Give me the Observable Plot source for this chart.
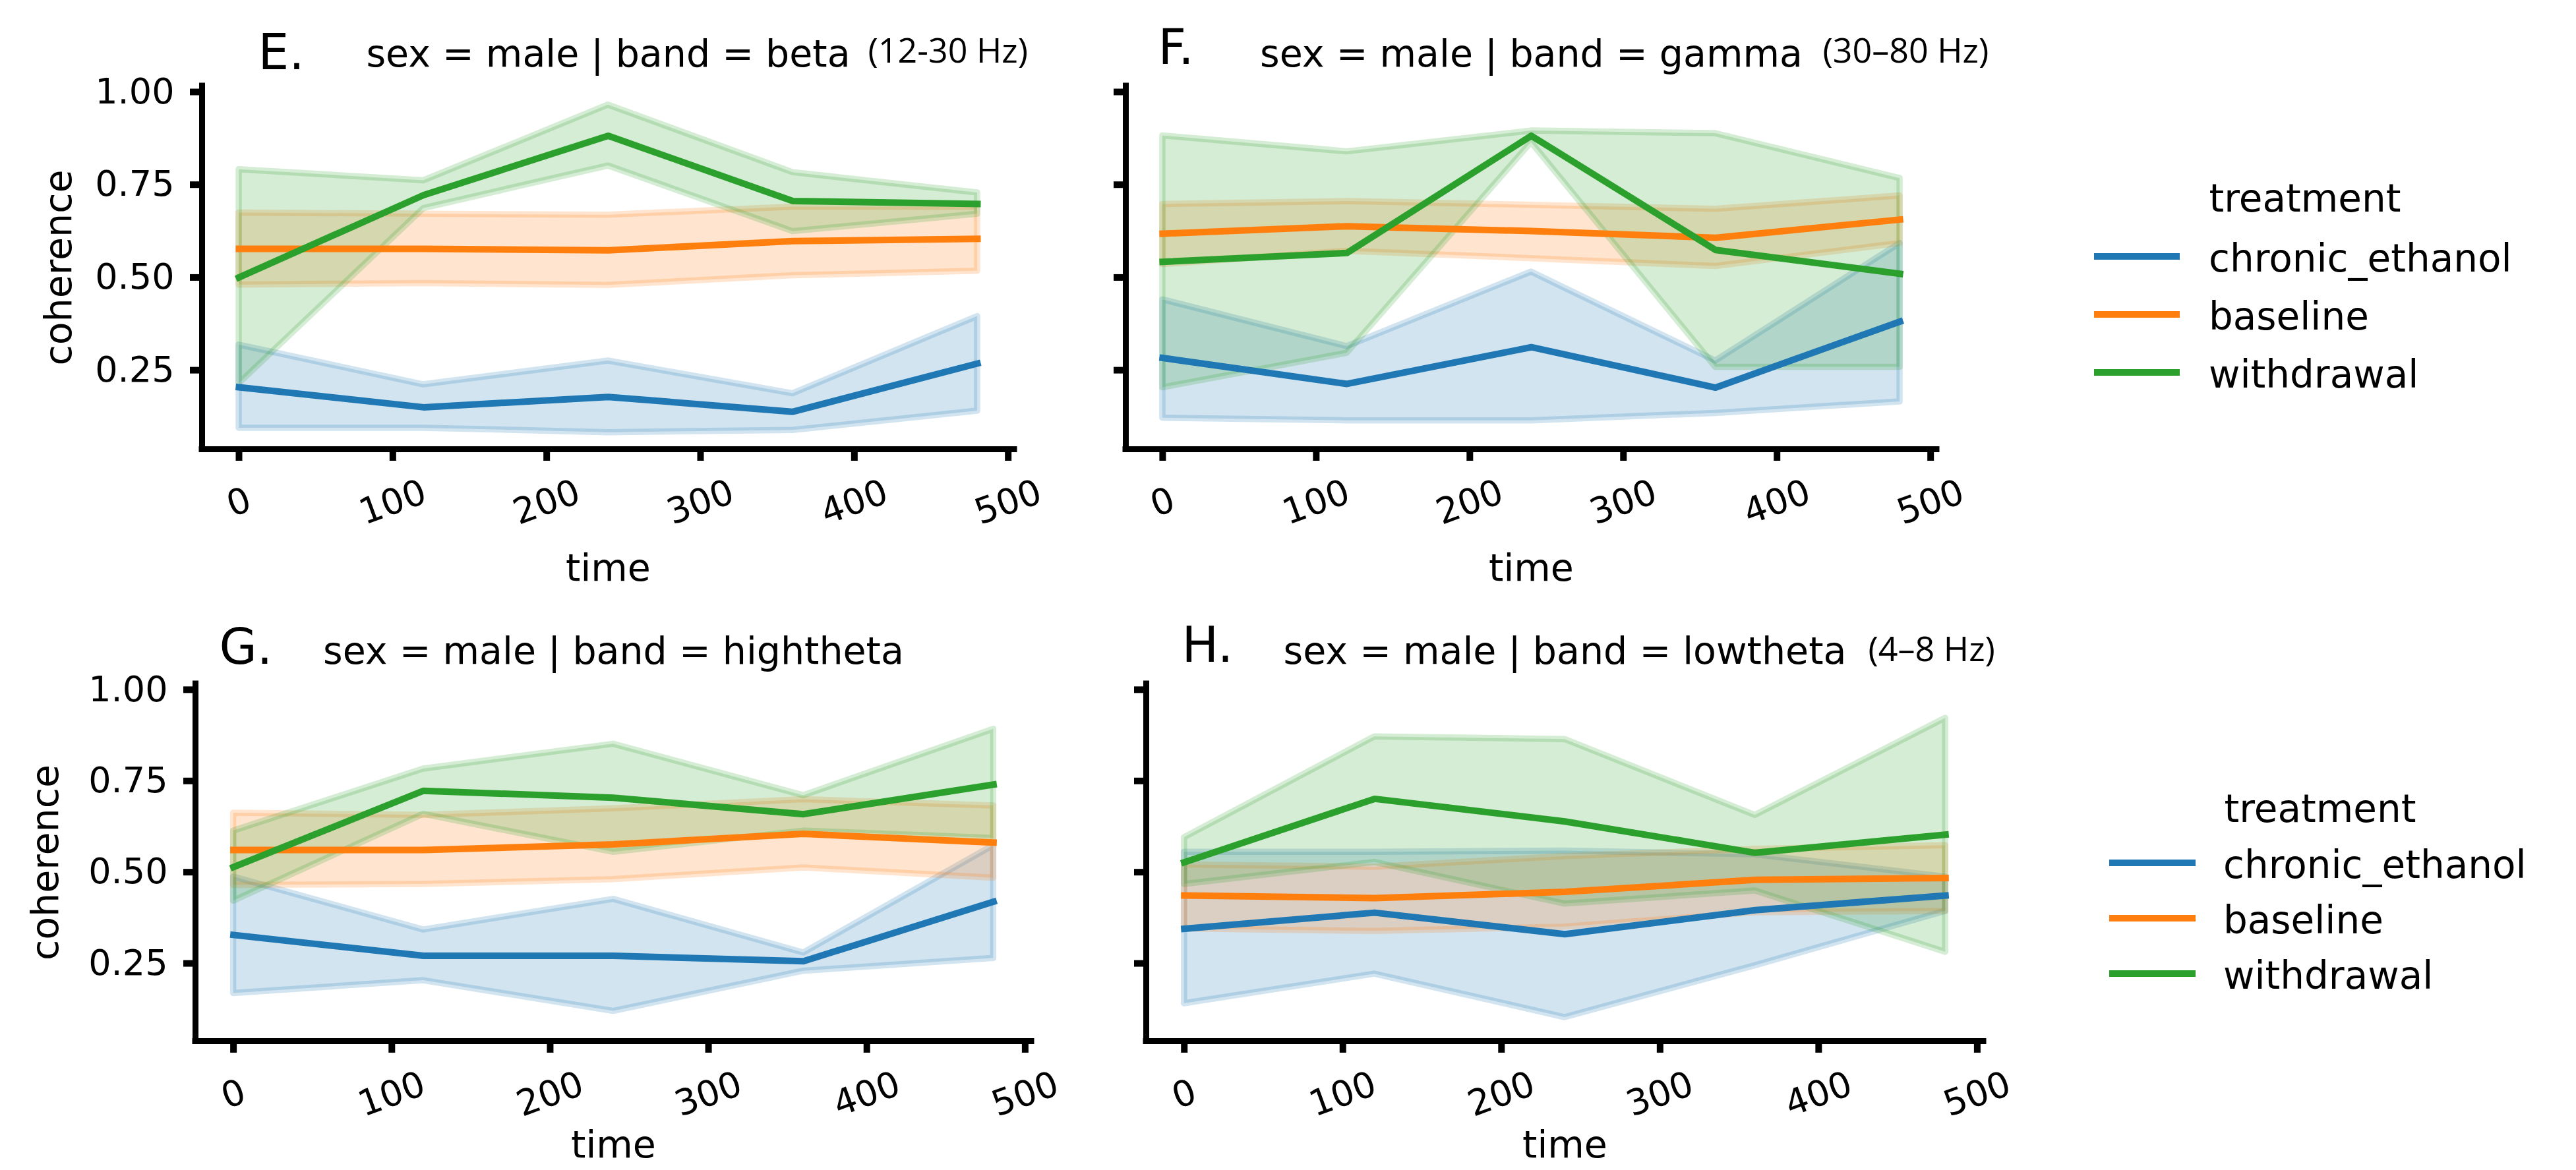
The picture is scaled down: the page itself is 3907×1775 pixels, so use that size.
<!DOCTYPE html>
<html>
<head>
<meta charset="utf-8">
<script src="https://cdn.jsdelivr.net/npm/d3@7"></script>
<script src="https://cdn.jsdelivr.net/npm/@observablehq/plot@0.6"></script>
<style>
  html, body { margin: 0; padding: 0; background: #ffffff; }
  #fig { position: relative; width: 3907px; height: 1775px; background: #ffffff; overflow: hidden; font-family: "DejaVu Sans"; }
  #fig > svg { position: absolute; }
</style>
</head>
<body>
<div id="fig"></div>
<script>
// ---------- data ----------
const times = [0, 120, 240, 360, 480];
const treatments = ["chronic_ethanol", "baseline", "withdrawal"];
const colors = ["#1f77b4", "#ff7f0e", "#2ca02c"];
const xTicks = [0, 100, 200, 300, 400, 500];
const yTicks = [0.25, 0.5, 0.75, 1.0];
const xDomain = [-24, 504];
const yDomain = [0.037, 1.016];

// band = beta  (rows: chronic_ethanol, baseline, withdrawal)
const betaMean = [
  [0.204, 0.150, 0.178, 0.138, 0.268],
  [0.577, 0.577, 0.573, 0.598, 0.604],
  [0.500, 0.722, 0.882, 0.706, 0.698]];
const betaLow = [
  [0.094, 0.094, 0.082, 0.088, 0.140],
  [0.480, 0.484, 0.479, 0.505, 0.517],
  [0.214, 0.686, 0.801, 0.624, 0.671]];
const betaHigh = [
  [0.318, 0.211, 0.275, 0.187, 0.395],
  [0.674, 0.671, 0.668, 0.690, 0.690],
  [0.791, 0.761, 0.965, 0.783, 0.728]];

// band = gamma
const gammaMean = [
  [0.283, 0.213, 0.312, 0.203, 0.381],
  [0.618, 0.638, 0.625, 0.607, 0.656],
  [0.542, 0.566, 0.882, 0.574, 0.510]];
const gammaLow = [
  [0.121, 0.114, 0.114, 0.134, 0.165],
  [0.535, 0.571, 0.551, 0.530, 0.592],
  [0.203, 0.296, 0.864, 0.258, 0.258]];
const gammaHigh = [
  [0.440, 0.314, 0.515, 0.275, 0.592],
  [0.697, 0.705, 0.695, 0.684, 0.720],
  [0.882, 0.839, 0.895, 0.888, 0.767]];

// band = hightheta
const highthetaMean = [
  [0.328, 0.271, 0.271, 0.256, 0.419],
  [0.561, 0.561, 0.576, 0.605, 0.581],
  [0.514, 0.723, 0.704, 0.659, 0.740]];
const highthetaLow = [
  [0.168, 0.203, 0.119, 0.229, 0.264],
  [0.464, 0.467, 0.480, 0.512, 0.484],
  [0.421, 0.659, 0.555, 0.613, 0.593]];
const highthetaHigh = [
  [0.487, 0.342, 0.426, 0.279, 0.573],
  [0.662, 0.656, 0.674, 0.699, 0.682],
  [0.613, 0.783, 0.851, 0.710, 0.892]];

// band = lowtheta
const lowthetaMean = [
  [0.345, 0.389, 0.330, 0.396, 0.436],
  [0.436, 0.429, 0.446, 0.479, 0.484],
  [0.527, 0.701, 0.639, 0.553, 0.603]];
const lowthetaLow = [
  [0.140, 0.221, 0.102, 0.244, 0.393],
  [0.345, 0.338, 0.350, 0.389, 0.393],
  [0.467, 0.527, 0.413, 0.449, 0.281]];
const lowthetaHigh = [
  [0.555, 0.555, 0.558, 0.548, 0.487],
  [0.520, 0.514, 0.543, 0.563, 0.573],
  [0.595, 0.871, 0.864, 0.656, 0.922]];

const panelLetters = ["E.", "F.", "G.", "H."];
const panelTitles = ["sex = male | band = beta", "sex = male | band = gamma", "sex = male | band = hightheta", "sex = male | band = lowtheta"];
const panelHz = ["(12-30 Hz)", "(30\u201380 Hz)", "", "(4\u20138 Hz)"];
const legendTitle = "treatment";
const xLabel = "time";
const yLabel = "coherence";

// ---------- layout ----------
const panels = [
  {mean: betaMean, low: betaLow, high: betaHigh, left: 0, top: 0, width: 1640, height: 900,
   mL: 306, mR: 102, mT: 130, mB: 219, showY: true, yLabDx: -217, xLabDy: 181,
   titleDy: -48, letDx: 85, letDy: -49, hzDx: 1010, hzDy: -52},
  {mean: gammaMean, low: gammaLow, high: gammaHigh, left: 1640, top: 0, width: 1400, height: 900,
   mL: 67, mR: 103, mT: 130, mB: 219, showY: false, xLabDy: 181,
   titleDy: -48, letDx: 49, letDy: -57, hzDx: 1057, hzDy: -52},
  {mean: highthetaMean, low: highthetaLow, high: highthetaHigh, left: 0, top: 900, width: 1640, height: 875,
   mL: 296, mR: 76, mT: 137, mB: 196, showY: true, yLabDx: -227, xLabDy: 158,
   titleDy: -49, letDx: 36, letDy: -54, hzDx: 0, hzDy: -51},
  {mean: lowthetaMean, low: lowthetaLow, high: lowthetaHigh, left: 1640, top: 900, width: 1420, height: 875,
   mL: 98, mR: 52, mT: 137, mB: 196, showY: false, xLabDy: 158,
   titleDy: -49, letDx: 54, letDy: -57, hzDx: 1095, hzDy: -51}
];

const fig = document.getElementById("fig");

panels.forEach((p, k) => {
  const rows = [];
  treatments.forEach((t, i) => times.forEach((tm, j) => rows.push({
    treatment: t, time: tm, mean: p.mean[i][j], lo: p.low[i][j], hi: p.high[i][j]
  })));
  const marks = [];
  // confidence bands below, mean lines above (as in matplotlib z-order)
  treatments.forEach(t => {
    const d = rows.filter(r => r.treatment === t);
    marks.push(Plot.areaY(d, {x: "time", y1: "lo", y2: "hi", fill: "treatment", fillOpacity: 0.2,
      stroke: "treatment", strokeOpacity: 0.2, strokeWidth: 9.5, strokeLinejoin: "round"}));
  });
  treatments.forEach(t => {
    const d = rows.filter(r => r.treatment === t);
    marks.push(Plot.line(d, {x: "time", y: "mean", stroke: "treatment", strokeWidth: 10,
      strokeLinecap: "square", strokeLinejoin: "round"}));
  });
  marks.push(Plot.axisX(xTicks, {tickSize: 18, strokeWidth: 10, tickPadding: 63, tickRotate: -20,
    lineAnchor: "middle", textAnchor: "middle", fontSize: 54, label: null}));
  marks.push(Plot.axisY(yTicks, Object.assign({tickSize: 18, strokeWidth: 10, tickPadding: 24, fontSize: 54,
    tickFormat: d3.format(".2f"), label: null}, p.showY ? {} : {fill: "none"})));
  marks.push(Plot.ruleX([xDomain[0]], {strokeWidth: 9, strokeLinecap: "square"}));
  marks.push(Plot.ruleY([yDomain[0]], {strokeWidth: 9, strokeLinecap: "square"}));
  marks.push(Plot.text([panelTitles[k]], {text: d => d, frameAnchor: "top", dy: p.titleDy,
    fontSize: 57, lineAnchor: "middle", textAnchor: "middle"}));
  marks.push(Plot.text([panelLetters[k]], {text: d => d, frameAnchor: "top-left", dx: p.letDx, dy: p.letDy,
    fontSize: 74, lineAnchor: "middle", textAnchor: "start"}));
  if (panelHz[k]) marks.push(Plot.text([panelHz[k]], {text: d => d, frameAnchor: "top-left", dx: p.hzDx, dy: p.hzDy,
    fontSize: 52, fontFamily: "Open Sans", lineAnchor: "middle", textAnchor: "start"}));
  marks.push(Plot.text([xLabel], {text: d => d, frameAnchor: "bottom", dy: p.xLabDy, fontSize: 57, lineAnchor: "middle"}));
  if (p.showY) marks.push(Plot.text([yLabel], {text: d => d, frameAnchor: "left", dx: p.yLabDx, rotate: -90,
    fontSize: 57, lineAnchor: "middle", textAnchor: "middle"}));

  const svg = Plot.plot({
    width: p.width, height: p.height,
    marginLeft: p.mL, marginRight: p.mR, marginTop: p.mT, marginBottom: p.mB,
    x: {domain: xDomain},
    y: {domain: yDomain},
    color: {domain: treatments, range: colors},
    style: {fontFamily: "DejaVu Sans", background: "transparent", overflow: "visible", color: "black"},
    marks
  });
  svg.style.left = p.left + "px";
  svg.style.top = p.top + "px";
  fig.appendChild(svg);
});

// ---------- legends ----------
const legends = [
  {lineX0: 3176, lineX1: 3306, textX: 3350, titleX: 3496, titleY: 302, rowY0: 389, step: 88},
  {lineX0: 3199, lineX1: 3330, textX: 3372, titleX: 3519, titleY: 1228, rowY0: 1309, step: 84}
];
const overlay = d3.create("svg").attr("width", 3907).attr("height", 1775)
  .style("left", "0px").style("top", "0px").style("font-family", "DejaVu Sans");
legends.forEach(L => {
  const g = overlay.append("g");
  g.append("text").attr("x", L.titleX).attr("y", L.titleY).attr("dy", "0.32em")
    .attr("text-anchor", "middle").attr("font-size", 58).attr("fill", "black").text(legendTitle);
  treatments.forEach((t, i) => {
    const y = L.rowY0 + i * L.step;
    g.append("line").attr("x1", L.lineX0).attr("x2", L.lineX1).attr("y1", y).attr("y2", y)
      .attr("stroke", colors[i]).attr("stroke-width", 10);
    g.append("text").attr("x", L.textX).attr("y", y + 4).attr("dy", "0.32em")
      .attr("font-size", 58).attr("fill", "black").text(t);
  });
});
fig.appendChild(overlay.node());
</script>
</body>
</html>
